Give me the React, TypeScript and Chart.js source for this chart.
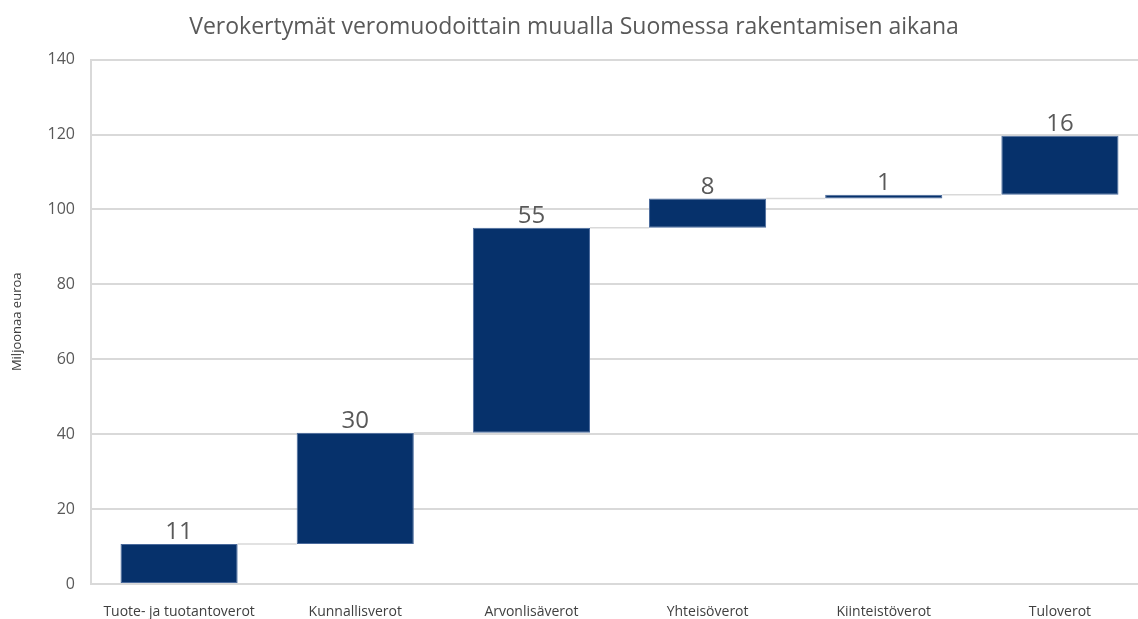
import React, { useEffect, useRef } from "react";
import { Chart, registerables } from "chart.js";

Chart.register(...registerables);

const categories = [
  "Tuote- ja tuotantoverot",
  "Kunnallisverot",
  "Arvonlisäverot",
  "Yhteisöverot",
  "Kiinteistöverot",
  "Tuloverot",
];
const increments = [10.7, 29.7, 54.7, 7.8, 1.0, 15.8];
const yTicks = [0, 20, 40, 60, 80, 100, 120, 140];
const chartTitle = "Verokertymät veromuodoittain muualla Suomessa rakentamisen aikana";
const yAxisTitle = "Miljoonaa euroa";

const ranges: [number, number][] = [];
{
  let acc = 0;
  for (const v of increments) {
    ranges.push([acc, acc + v]);
    acc += v;
  }
}

const FONT = "'Open Sans', 'DejaVu Sans', sans-serif";

const waterfallPlugin = {
  id: "waterfallExtras",
  afterDatasetsDraw(chart: any) {
    const { ctx } = chart;
    const meta = chart.getDatasetMeta(0);
    const y = chart.scales.y;
    ctx.save();
    // connectors
    ctx.strokeStyle = "#d9d9d9";
    ctx.lineWidth = 1.5;
    for (let i = 0; i < meta.data.length - 1; i++) {
      const a = meta.data[i] as any;
      const b = meta.data[i + 1] as any;
      const yy = y.getPixelForValue(ranges[i][1]);
      ctx.beginPath();
      ctx.moveTo(a.x + a.width / 2, yy);
      ctx.lineTo(b.x - b.width / 2, yy);
      ctx.stroke();
    }
    // value labels
    ctx.fillStyle = "#595959";
    ctx.font = `24px ${FONT}`;
    ctx.textAlign = "center";
    ctx.textBaseline = "alphabetic";
    meta.data.forEach((el: any, i: number) => {
      const top = y.getPixelForValue(ranges[i][1]);
      ctx.fillText(String(Math.round(increments[i])), el.x, top - 5);
    });
    ctx.restore();
  },
};

export default function App() {
  const ref = useRef<HTMLCanvasElement>(null);
  useEffect(() => {
    if (!ref.current) return;
    const chart = new Chart(ref.current, {
      type: "bar",
      data: {
        labels: categories,
        datasets: [
          {
            data: ranges as any,
            backgroundColor: "#06316b",
            borderColor: "#4a6a9c",
            borderWidth: 1,
            borderSkipped: false,
            barPercentage: 0.665,
            categoryPercentage: 1,
          },
        ],
      },
      options: {
        animation: false,
        responsive: false,
        maintainAspectRatio: false,
        layout: { padding: { left: 0, right: 0, top: 0, bottom: 0 } },
        plugins: {
          legend: { display: false },
          tooltip: { enabled: false },
          title: {
            display: true,
            text: chartTitle,
            color: "#595959",
            font: { family: FONT, size: 23, weight: "normal" },
            padding: { top: 14, bottom: 18 },
          },
        },
        scales: {
          x: {
            grid: { display: false, drawTicks: false },
            border: { display: false },
            ticks: {
              color: "#404040",
              font: { family: FONT, size: 14 },
              padding: 20,
              maxRotation: 0,
              autoSkip: false,
            },
            afterFit(scale: any) {
              scale.height = 35;
            },
          },
          y: {
            min: 0,
            max: 140,
            afterBuildTicks(scale: any) {
              scale.ticks = yTicks.map((v) => ({ value: v }));
            },
            grid: { color: "#d9d9d9", lineWidth: 2, drawTicks: false },
            border: { display: true, color: "#d9d9d9", width: 2 },
            ticks: {
              color: "#595959",
              font: { family: FONT, size: 16 },
              padding: 16,
            },
            title: {
              display: true,
              text: yAxisTitle,
              color: "#404040",
              font: { family: FONT, size: 13 },
              padding: { top: 9, bottom: 0 },
            },
            afterFit(scale: any) {
              scale.width = 91;
            },
          },
        },
      },
      plugins: [waterfallPlugin],
    });
    return () => chart.destroy();
  }, []);
  return (
    <div
      style={{
        position: "fixed",
        left: 0,
        top: 0,
        width: 1138,
        height: 619,
        overflow: "hidden",
        background: "#fff",
      }}
    >
      <canvas ref={ref} width={1148} height={619} style={{ display: "block" }} />
    </div>
  );
}
